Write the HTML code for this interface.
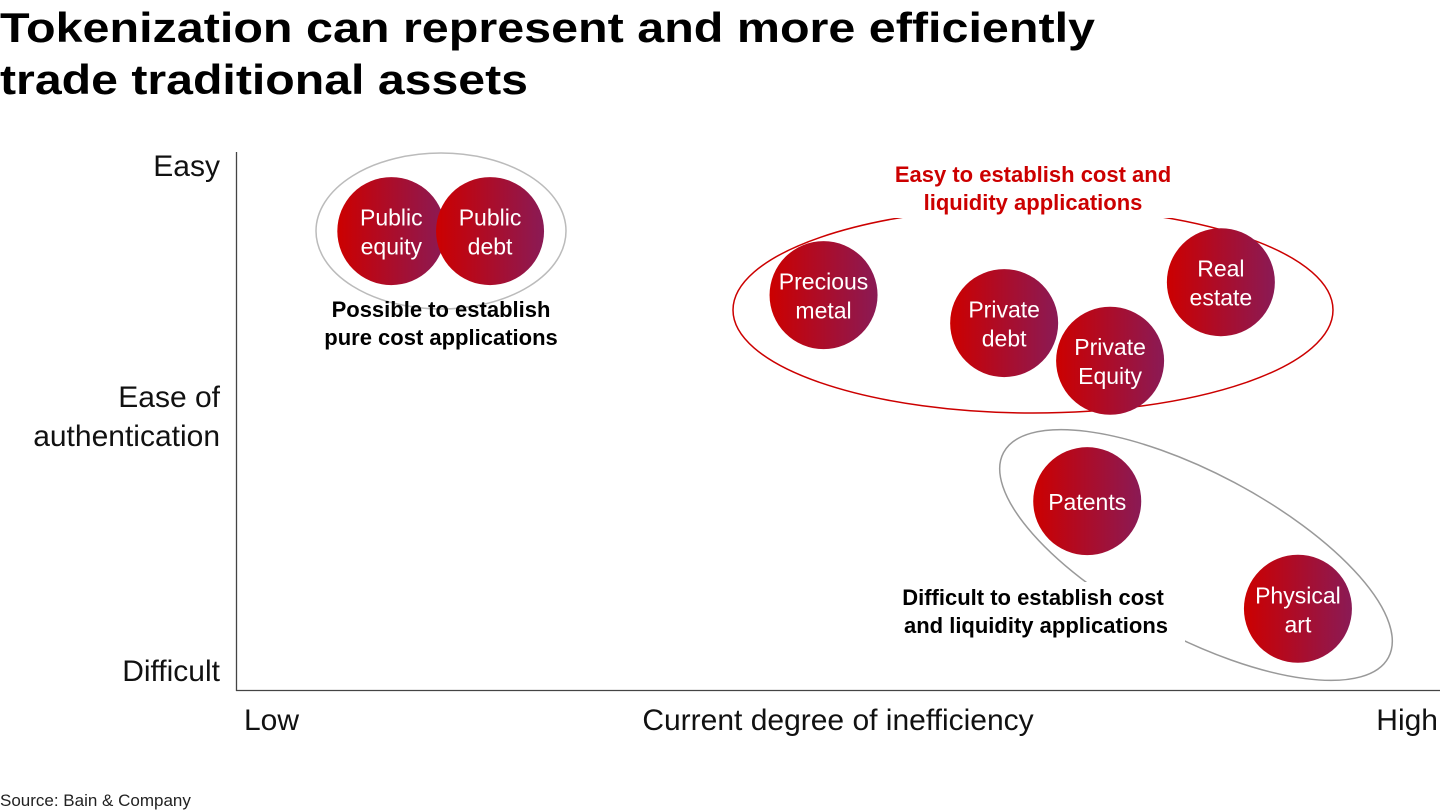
<!DOCTYPE html>
<html><head><meta charset="utf-8"><style>
body{margin:0;background:#fff;width:1440px;height:810px;overflow:hidden;font-family:"Liberation Sans",sans-serif}
svg{display:block}
</style></head><body>
<svg id="chart" width="1440" height="810" viewBox="0 0 1440 810" xmlns="http://www.w3.org/2000/svg" font-family="Liberation Sans, sans-serif">
<defs><linearGradient id="g" x1="0" x2="1" y1="0" y2="0"><stop offset="0" stop-color="#cc0000"/><stop offset="1" stop-color="#8a1a55"/></linearGradient></defs>
<g font-weight="bold" font-size="42" fill="#000">
<text x="0" y="42" textLength="1095" lengthAdjust="spacingAndGlyphs">Tokenization can represent and more efficiently</text>
<text x="0" y="94" textLength="528" lengthAdjust="spacingAndGlyphs">trade traditional assets</text>
</g>
<line x1="236.5" y1="152" x2="236.5" y2="691" stroke="#444" stroke-width="1.3"/>
<line x1="236" y1="690.5" x2="1440" y2="690.5" stroke="#444" stroke-width="1.3"/>
<g font-size="30" fill="#111">
<text x="220" y="176" text-anchor="end">Easy</text>
<text x="220" y="407" text-anchor="end">Ease of</text>
<text x="220" y="446" text-anchor="end">authentication</text>
<text x="220" y="681" text-anchor="end">Difficult</text>
<text x="244" y="730">Low</text>
<text x="838" y="730" text-anchor="middle">Current degree of inefficiency</text>
<text x="1438" y="730" text-anchor="end">High</text>
</g>
<text x="0" y="806" font-size="17" fill="#222">Source: Bain &amp; Company</text>
<ellipse cx="441" cy="231" rx="125" ry="78" fill="none" stroke="#bbb" stroke-width="1.5"/>
<ellipse cx="1033" cy="310" rx="300" ry="103" fill="none" stroke="#cc0000" stroke-width="1.5"/>
<ellipse cx="1196" cy="555" rx="218" ry="82" transform="rotate(28 1196 555)" fill="none" stroke="#999" stroke-width="1.5"/>
<g id="bubbles"></g>
<g font-weight="bold" font-size="22" text-anchor="middle">
<rect x="885" y="158" width="300" height="60" fill="#fff"/>
<text x="1033" y="182" fill="#cc0000">Easy to establish cost and</text>
<text x="1033" y="210" fill="#cc0000">liquidity applications</text>
<text x="441" y="317" fill="#000">Possible to establish</text>
<text x="441" y="345" fill="#000">pure cost applications</text>
<rect x="885" y="582" width="300" height="60" fill="#fff"/>
<text x="1033" y="605" fill="#000">Difficult to establish cost</text>
<text x="1036" y="633" fill="#000">and liquidity applications</text>
</g>
</svg>
<script>
const names=[["Public","equity"],["Public","debt"],["Precious","metal"],["Private","debt"],["Private","Equity"],["Real","estate"],["Patents"],["Physical","art"]];
const inefficiency=[12.9,21.1,48.8,63.8,72.6,81.8,70.7,88.2];
const authentication=[85.3,85.3,73.4,68.2,61.2,75.8,35.1,15.1];
const xS=v=>236+v*12.04, yS=v=>690-v*5.38;
const g=document.getElementById('bubbles');
const NS='http://www.w3.org/2000/svg';
names.forEach((n,i)=>{
  const cx=xS(inefficiency[i]), cy=yS(authentication[i]);
  const c=document.createElementNS(NS,'circle');
  
  
  c.setAttribute('cx',cx);c.setAttribute('cy',cy);c.setAttribute('r',54);c.setAttribute('fill','url(#g)');
  g.appendChild(c);
  n.forEach((w,j)=>{
    const t=document.createElementNS(NS,'text');
    
    
    t.setAttribute('x',cx);t.setAttribute('y',cy+9+(j-(n.length-1)/2)*29);
    t.setAttribute('text-anchor','middle');t.setAttribute('fill','#fff');t.setAttribute('font-size','23');
    t.textContent=w;g.appendChild(t);
  });
});
</script>
</body></html>
